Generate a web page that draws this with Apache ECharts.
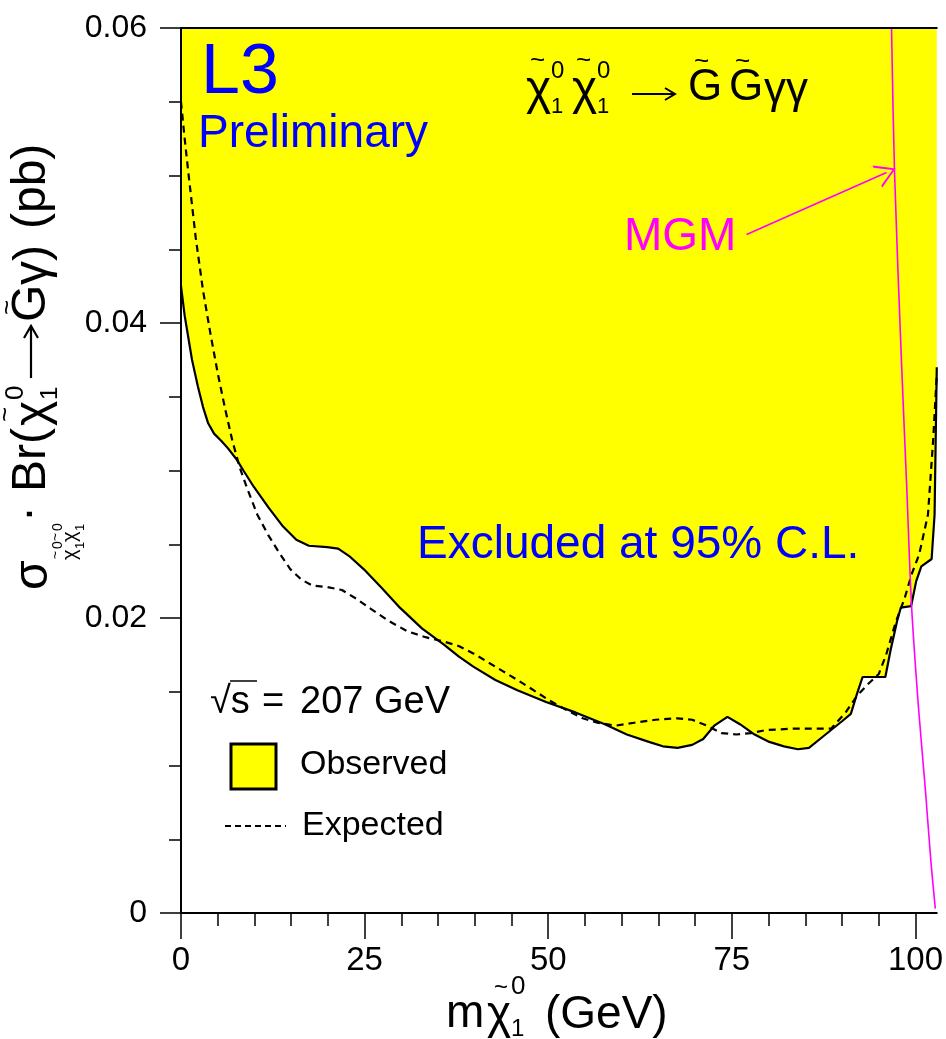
<!DOCTYPE html>
<html>
<head>
<meta charset="utf-8">
<script src="https://cdn.jsdelivr.net/npm/echarts@6/dist/echarts.min.js"></script>
<style>html,body{margin:0;padding:0;background:#fff;}#c{width:946px;height:1039px;}</style>
</head>
<body>
<div id="c"></div>
<script>
// ---- data ----
const xMin = 0, xMax = 102.9;
const yMin = 0, yMax = 0.06;
const xMajorTicks = [0, 25, 50, 75, 100];
const xMinorTicks = [5, 10, 15, 20, 30, 35, 40, 45, 55, 60, 65, 70, 80, 85, 90, 95];
const yTicks = [0, 0.02, 0.04, 0.06];

const obsX = [0, 0.5, 1.0, 1.5, 2.3, 3.0, 3.7, 4.5, 5.5, 6.4, 7.5, 8.5, 9.9, 11.9, 13.9, 15.7, 17.4, 19.9, 21.4, 22.9, 24.9, 27.4, 29.8, 32.8, 35.8, 37.8, 39.8, 42.8, 45.8, 49.7, 53.7, 57.7, 60.7, 63.7, 65.6, 67.6, 69.6, 71.1, 72.6, 74.4, 76.1, 78.1, 80.1, 82.1, 84.0, 85.5, 87.5, 90.0, 91.2, 92.0, 92.8, 95.9, 96.6, 97.5, 98.0, 99.4, 100.1, 100.8, 102.2, 102.6, 102.9];
const obsY = [0.0425, 0.0405, 0.0390, 0.0375, 0.0357, 0.0343, 0.0332, 0.0325, 0.0320, 0.0315, 0.0308, 0.0300, 0.0289, 0.0275, 0.0262, 0.0253, 0.0249, 0.0248, 0.0247, 0.0242, 0.0233, 0.0220, 0.0207, 0.0193, 0.0182, 0.0174, 0.0167, 0.0158, 0.0151, 0.0143, 0.0136, 0.0128, 0.0121, 0.0116, 0.0113, 0.0112, 0.0114, 0.0118, 0.0127, 0.0133, 0.0128, 0.0121, 0.0116, 0.0113, 0.0111, 0.0112, 0.0120, 0.0130, 0.0135, 0.0148, 0.0160, 0.0160, 0.0178, 0.0198, 0.0207, 0.0208, 0.0225, 0.0235, 0.0240, 0.0270, 0.0370];

const expX = [0, 0.5, 1.0, 2.0, 3.0, 4.0, 5.0, 6.0, 7.0, 8.0, 9.0, 10.4, 11.9, 13.4, 14.9, 16.4, 17.9, 19.9, 21.9, 23.9, 25.9, 28.3, 30.8, 33.3, 35.8, 37.8, 39.8, 41.8, 43.8, 45.8, 47.7, 50.2, 52.7, 54.7, 56.7, 59.2, 61.7, 64.6, 67.6, 69.6, 71.6, 73.6, 75.6, 77.6, 79.6, 83.5, 88.5, 90.5, 92.0, 93.5, 95.0, 96.0, 97.3, 98.5, 99.5, 100.5, 101.7, 102.4, 102.9];
const expY = [0.0550, 0.0525, 0.0502, 0.0458, 0.0422, 0.0393, 0.0366, 0.0342, 0.0320, 0.0302, 0.0288, 0.0270, 0.0256, 0.0244, 0.0233, 0.0226, 0.0222, 0.0221, 0.0219, 0.0213, 0.0206, 0.0198, 0.0191, 0.0187, 0.0184, 0.0181, 0.0176, 0.0170, 0.0164, 0.0158, 0.0152, 0.0144, 0.0137, 0.0132, 0.0129, 0.0127, 0.0129, 0.0131, 0.0132, 0.0131, 0.0127, 0.0122, 0.0121, 0.0122, 0.0124, 0.0125, 0.0125, 0.0136, 0.0147, 0.0155, 0.0162, 0.0175, 0.0197, 0.0213, 0.0230, 0.0243, 0.0270, 0.0320, 0.0365];

const mgmX = [96.74, 97.15, 98.1, 98.8, 99.46, 100.4, 101.36, 102.1, 102.7];
const mgmY = [0.060, 0.0502, 0.0373, 0.029, 0.0209, 0.014, 0.0083, 0.0035, 0.0003];

const arrowFrom = [77.0, 0.0460];
const arrowTo = [96.06, 0.0502];

// ---- build ----
const pairs = (xs, ys) => xs.map((x, i) => [x, ys[i]]);
const FONT = '"Liberation Sans", Arial, Helvetica, sans-serif';
const BLUE = '#0000ff', MAG = '#ff00ff', YEL = '#ffff00';

function T(text, x, y, size, color, opts) {
  opts = opts || {};
  return {
    type: 'text', x: x, y: y, z: 100, silent: true,
    style: {
      text: text, fill: color || '#000',
      font: (opts.weight || 'normal') + ' ' + size + 'px ' + FONT,
      textAlign: opts.align || 'left', align: opts.align || 'left',
      textVerticalAlign: 'middle', verticalAlign: 'middle'
    }
  };
}
function L(x1, y1, x2, y2, w) {
  return {type: 'line', z: 100, silent: true, shape: {x1: x1, y1: y1, x2: x2, y2: y2}, style: {stroke: '#000', lineWidth: w || 2}};
}
function P(points, w) {
  return {type: 'polyline', z: 100, silent: true, shape: {points: points}, style: {stroke: '#000', fill: null, lineWidth: w || 2}};
}

const chart = echarts.init(document.getElementById('c'), null, {renderer: 'canvas'});

const axisBase = {
  type: 'value', min: xMin, max: xMax, gridIndex: 0, z: 10,
  splitLine: {show: false}
};

const option = {
  animation: false,
  backgroundColor: '#ffffff',
  grid: {left: 181, right: 8, top: 28, bottom: 126, containLabel: false},
  xAxis: [
    Object.assign({}, axisBase, {
      position: 'bottom',
      axisLine: {show: true, lineStyle: {color: '#000', width: 2}},
      axisTick: {show: true, inside: false, length: 26, customValues: xMajorTicks, lineStyle: {color: '#000', width: 1.5}},
      axisLabel: {show: true, customValues: xMajorTicks, margin: 31, color: '#000', fontSize: 33, fontFamily: FONT}
    }),
    Object.assign({}, axisBase, {
      position: 'bottom',
      axisLine: {show: false},
      axisTick: {show: true, inside: false, length: 13, customValues: xMinorTicks, lineStyle: {color: '#000', width: 1.5}},
      axisLabel: {show: false}
    }),
    Object.assign({}, axisBase, {
      position: 'top',
      axisLine: {show: true, lineStyle: {color: '#000', width: 2}},
      axisTick: {show: false}, axisLabel: {show: false}
    })
  ],
  yAxis: [
    {
      type: 'value', min: yMin, max: yMax, interval: 0.02, position: 'left', z: 10,
      splitLine: {show: false},
      axisLine: {show: true, lineStyle: {color: '#000', width: 2}},
      axisTick: {show: true, inside: false, length: 21, lineStyle: {color: '#000', width: 1.5}},
      minorTick: {show: true, splitNumber: 4, length: 12, lineStyle: {color: '#000', width: 1.5}},
      axisLabel: {
        show: true, margin: 34, color: '#000', fontSize: 32, fontFamily: FONT,
        formatter: v => (Math.abs(v) < 1e-9 ? '0' : v.toFixed(2))
      }
    },
    {
      type: 'value', min: yMin, max: yMax, position: 'right', z: 10,
      splitLine: {show: false},
      axisLine: {show: true, lineStyle: {color: '#000', width: 2}},
      axisTick: {show: false}, axisLabel: {show: false}
    }
  ],
  series: [
    {
      name: 'Observed', type: 'line', xAxisIndex: 0, yAxisIndex: 0,
      data: pairs(obsX, obsY), showSymbol: false, symbol: 'none', z: 2,
      lineStyle: {color: '#000', width: 2.2},
      areaStyle: {color: YEL, opacity: 1, origin: 'end'}
    },
    {
      name: 'Expected', type: 'line', xAxisIndex: 0, yAxisIndex: 0,
      data: pairs(expX, expY), showSymbol: false, symbol: 'none', z: 3,
      lineStyle: {color: '#000', width: 2.2, type: [7, 5]}
    },
    {
      name: 'MGM', type: 'line', xAxisIndex: 0, yAxisIndex: 0,
      data: pairs(mgmX, mgmY), showSymbol: false, symbol: 'none', z: 4, smooth: 0.3,
      lineStyle: {color: MAG, width: 1.6},
      markLine: {
        silent: true, animation: false,
        symbol: ['none', 'path://M0,20 L10,0 L20,20 L18,20 L10,3.5 L2,20 Z'],
        symbolSize: [24, 20],
        lineStyle: {color: MAG, width: 1.6, type: 'solid'},
        label: {show: false},
        data: [[{coord: arrowFrom}, {coord: arrowTo}]]
      }
    }
  ],
  graphic: [
    // labels inside the plot
    T('L3', 201, 74, 70, BLUE),
    T('Preliminary', 198, 134, 46, BLUE),
    T('Excluded at 95% C.L.', 417, 545, 46, BLUE),
    T('MGM', 624, 237, 46, MAG),
    // process formula
    T('\u03C7', 526, 91, 48), T('~', 530, 61, 26), T('0', 551, 71, 24), T('1', 551, 107, 22),
    T('\u03C7', 572, 91, 48), T('~', 576, 61, 26), T('0', 597, 71, 24), T('1', 597, 107, 22),
    L(632, 94, 674, 94, 2), P([[665, 88], [675, 94], [665, 100]], 2),
    T('G', 688, 88, 44), T('~', 694, 62, 26),
    T('G', 729, 88, 44), T('~', 735, 62, 26),
    T('\u03B3\u03B3', 764, 91, 44),
    // legend
    T('\u221As', 210, 703, 38), T('=', 262, 703, 38), T('207 GeV', 300, 703, 38),
    {type: 'line', z: 100, silent: true, shape: {x1: 230, y1: 681, x2: 257, y2: 681}, style: {stroke: '#000', lineWidth: 1.5}},
    {type: 'rect', z: 100, silent: true, shape: {x: 231, y: 744, width: 45, height: 45}, style: {fill: YEL, stroke: '#000', lineWidth: 3}},
    T('Observed', 300, 765, 34),
    {type: 'line', z: 100, silent: true, shape: {x1: 225, y1: 826, x2: 286, y2: 826}, style: {stroke: '#000', lineWidth: 2, lineDash: [6, 4]}},
    T('Expected', 302, 826, 34),
    // x axis title
    T('m', 446, 1014, 46), T('\u03C7', 487, 1015, 46), T('~', 494, 988, 24), T('0', 511, 987, 26), T('1', 511, 1029, 24),
    T('(GeV)', 545, 1015, 46),
    // y axis title (rotated group)
    {
      type: 'group', x: 48, y: 590, rotation: Math.PI / 2, z: 100,
      children: [
        T('\u03C3', 0, -14, 48),
        T('\u03C7', 30, 22, 20), T('~', 31, 8, 14), T('0', 41, 10, 14), T('1', 41, 32, 13),
        T('\u03C7', 48, 22, 20), T('~', 49, 8, 14), T('0', 59, 10, 14), T('1', 59, 32, 13),
        T('\u00B7', 68, -18, 48),
        T('Br(', 98, -16, 48),
        T('\u03C7', 164, -14, 48), T('~', 168, -42, 26), T('0', 190, -32, 26), T('1', 190, 2, 24),
        L(212, -17, 262, -17, 2.2), P([[252, -24], [264, -17], [252, -10]], 2.2),
        T('G', 268, -16, 48), T('~', 275, -40, 26),
        T('\u03B3)', 305, -14, 48),
        T('(pb)', 361, -16, 48)
      ]
    }
  ]
};
chart.setOption(option);
</script>
</body>
</html>
